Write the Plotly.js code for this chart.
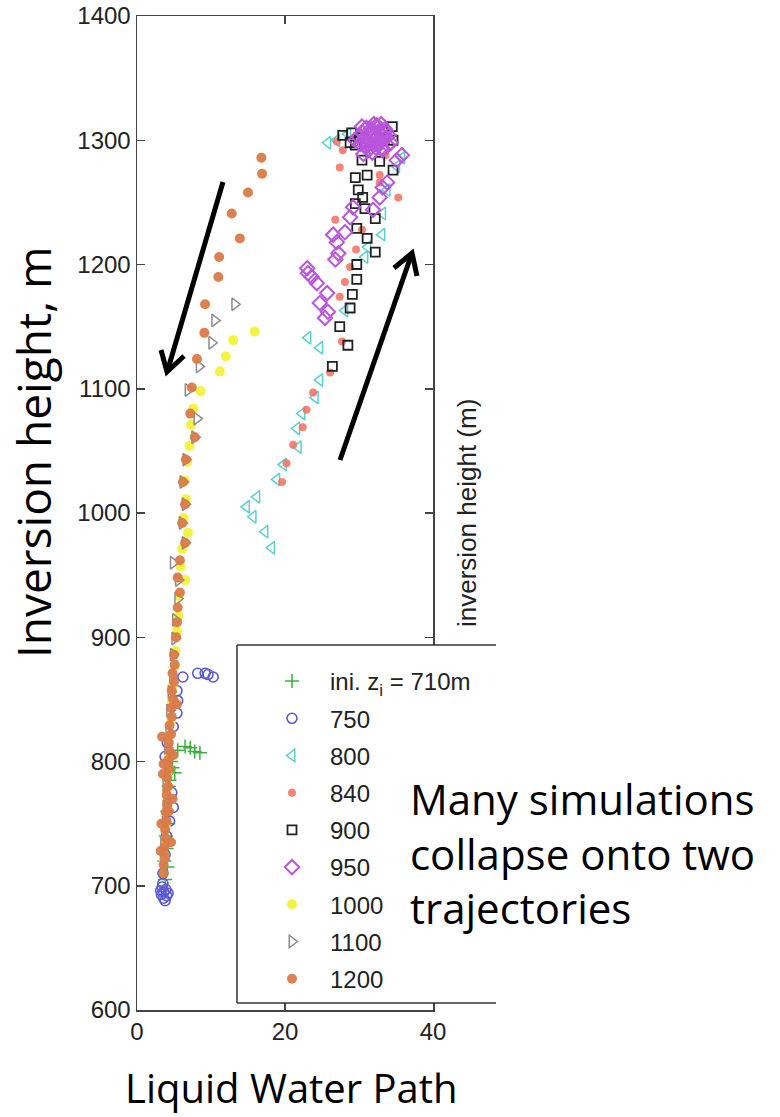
<!DOCTYPE html>
<html>
<head>
<meta charset="utf-8">
<script src="https://cdn.plot.ly/plotly-3.0.1.min.js"></script>
<style>html,body{margin:0;padding:0;background:#fff;}#chart{width:780px;height:1117px;}</style>
</head>
<body>
<div id="chart"></div>
<script>
// ---- data (LWP vs inversion height) ----
const seriesNames = ["ini. z<sub>i</sub> = 710m", "750", "800", "840", "900", "950", "1000", "1100", "1200"];

const lwp710 = [5.5, 6.5, 7.2, 7.8, 8.5, 4.6, 5.1, 4.3, 4.5, 4.1, 4.2, 3.9, 4.0, 3.7, 4.1, 3.8, 4.8, 4.4];
const zi710  = [809, 812, 811, 808, 807, 800, 791, 780, 770, 760, 750, 740, 730, 720, 715, 705, 795, 785];

const lwp750 = [6.2, 8.2, 9.2, 9.6, 10.3, 5.4, 5.5, 5.4, 4.9, 4.1, 3.8, 4.7, 4.9, 4.4, 4.0, 3.8, 3.5, 3.4, 3.9, 3.6, 3.3, 4.0, 3.6, 3.8, 3.2, 4.2, 3.5];
const zi750  = [868, 871, 871, 870, 868, 857, 849, 839, 828, 815, 804, 775, 763, 752, 740, 725, 710, 699, 697, 695, 693, 692, 690, 688, 696, 694, 702];

const lwp800 = [18.2, 17.3, 15.7, 14.8, 16.2, 18.9, 19.8, 21.8, 21.6, 22.3, 24.1, 24.7, 23.1, 24.7, 28.1, 30.8, 31.2, 33.1, 33.2, 33.8, 35.1, 35.8, 25.8, 27.0, 28.5, 30.0];
const zi800  = [972, 985, 997, 1005, 1013, 1027, 1039, 1053, 1068, 1080, 1093, 1107, 1141, 1133, 1163, 1206, 1214, 1224, 1241, 1260, 1279, 1286, 1298, 1300, 1305, 1300];

const lwp840 = [19.6, 20.2, 21.1, 22.4, 22.9, 23.8, 26.1, 27.7, 27.4, 28.1, 28.8, 29.6, 26.8, 30.4, 27.4, 27.8, 27.0, 35.3, 32.8, 32.8, 33.6, 31.2];
const zi840  = [1025, 1040, 1055, 1069, 1083, 1097, 1113, 1138, 1174, 1186, 1198, 1212, 1236, 1228, 1278, 1292, 1299, 1254, 1266, 1272, 1288, 1296];

const lwp900 = [26.4, 27.4, 28.5, 28.8, 29.1, 29.7, 29.7, 32.2, 31.1, 29.7, 32.2, 30.8, 29.5, 30.5, 29.9, 29.5, 31.1, 30.4, 32.8, 34.6, 34.6, 34.5, 27.8, 28.8, 29.0, 30.0, 33.2, 29.5];
const zi900  = [1118, 1150, 1135, 1165, 1176, 1188, 1200, 1210, 1221, 1229, 1237, 1245, 1249, 1254, 1260, 1270, 1272, 1284, 1283, 1276, 1300, 1311, 1304, 1298, 1306, 1302, 1308, 1296];

const lwp950 = [23.0, 23.1, 23.6, 24.3, 25.7, 24.7, 25.8, 25.4, 26.8, 27.2, 27.0, 26.5, 28.1, 28.8, 29.2, 31.9, 32.8, 33.2, 33.8, 35.8, 35.1,
                31.0, 32.5, 33.5, 30.5, 31.8, 33.0, 34.0, 30.8, 32.2, 33.4, 31.5, 32.8, 30.2, 33.9, 31.0, 32.3, 33.2, 31.8, 30.6, 29.5, 29.9, 32.0, 33.0, 31.3, 34.3,
                31.4, 32.6, 30.9, 33.7, 32.1, 31.6, 33.1, 30.4, 32.9, 31.2, 32.4, 33.6];
const zi950  = [1197, 1193, 1190, 1185, 1177, 1169, 1162, 1157, 1204, 1209, 1218, 1224, 1226, 1238, 1246, 1244, 1254, 1262, 1266, 1288, 1284,
                1310, 1310, 1309, 1306, 1306, 1305, 1304, 1302, 1302, 1301, 1299, 1298, 1297, 1296, 1295, 1294, 1292, 1290, 1289, 1300, 1303, 1313, 1313, 1292, 1298,
                1304, 1307, 1299, 1302, 1297, 1309, 1294, 1311, 1300, 1296, 1312, 1307];

const lwp1000 = [15.9, 13.0, 12.0, 11.2, 8.6, 7.6, 7.3, 7.1, 6.8, 6.5, 6.6, 6.3, 6.9, 6.1, 5.9, 6.5, 5.7, 5.6, 5.4, 5.2, 5.1, 4.8, 4.7, 4.6, 4.4, 4.3, 4.3, 4.0, 4.1, 3.9, 3.8, 3.6];
const zi1000  = [1146, 1139, 1126, 1114, 1098, 1084, 1071, 1054, 1041, 1026, 1011, 996, 984, 971, 957, 946, 933, 917, 905, 889, 877, 861, 849, 833, 821, 805, 793, 777, 765, 749, 737, 721];

const lwp1100 = [13.2, 10.5, 10.1, 8.4, 6.9, 8.1, 7.8, 6.6, 6.2, 6.5, 6.1, 6.5, 4.9, 5.6, 5.5, 5.2, 5.1, 4.9, 4.8, 4.6, 4.4, 4.3, 4.1, 4.1, 3.9, 3.9, 3.8, 3.6, 3.6];
const zi1100  = [1168, 1155, 1137, 1118, 1099, 1076, 1061, 1043, 1025, 1007, 992, 976, 960, 946, 931, 914, 899, 886, 869, 856, 841, 824, 811, 794, 781, 764, 751, 734, 721];

const lwp1200 = [16.8, 16.9, 15.0, 12.8, 13.9, 11.1, 11.0, 9.2, 9.1, 8.1, 7.4, 7.2, 7.8, 6.6, 6.2, 6.5, 6.1, 6.5, 5.8, 5.5, 5.8, 5.5, 5.4, 5.3,
                 5.0, 5.1, 4.8, 5.0, 4.7, 4.9, 4.6, 4.7, 4.4, 4.6, 4.3, 4.4, 4.2, 4.4, 4.1, 4.2, 4.0, 4.1, 3.9, 4.0, 3.8, 3.9, 3.7, 3.8, 3.6, 3.6,
                 3.4, 4.9, 3.5, 4.8, 3.3, 4.6, 5.4, 3.6, 4.3, 3.2];
const zi1200  = [1286, 1273, 1258, 1241, 1221, 1206, 1190, 1168, 1145, 1124, 1101, 1080, 1061, 1043, 1025, 1007, 992, 976, 962, 948, 936, 924, 912, 900,
                 886, 878, 871, 864, 857, 850, 843, 836, 829, 822, 815, 808, 801, 794, 787, 780, 773, 766, 759, 752, 745, 738, 731, 724, 717, 710,
                 820, 805, 790, 770, 750, 735, 846, 798, 760, 728];

// ---- styles ----
const FONT = "Liberation Sans, Arial, Helvetica, sans-serif";
const BIG = "Open Sans, Lato, sans-serif";

function tr(name, x, y, symbol, color, size, lw, filled, opacity) {
  return {
    type: "scatter", mode: "markers", name: name, x: x, y: y,
    legendgroup: name,
    marker: filled
      ? {symbol: symbol, color: color, size: size, opacity: opacity || 1, line: {width: 0}}
      : {symbol: symbol, color: color, size: size, opacity: opacity || 1, line: {width: lw, color: color}},
    hoverinfo: "x+y"
  };
}

const data = [
  tr(seriesNames[0], lwp710, zi710, "cross-thin-open", "#3fae3f", 10, 1.5, false),
  tr(seriesNames[1], lwp750, zi750, "circle-open", "#5a5ad2", 10, 1.6, false),
  tr(seriesNames[2], lwp800, zi800, "triangle-left-open", "#5ccfd0", 11, 1.5, false),
  tr(seriesNames[3], lwp840, zi840, "circle", "#f5705f", 8, 0, true, 0.85),
  tr(seriesNames[4], lwp900, zi900, "square-open", "#222222", 9, 1.8, false),
  tr(seriesNames[5], lwp950, zi950, "diamond-open", "#b955dc", 11, 2, false),
  tr(seriesNames[6], lwp1000, zi1000, "circle", "#f2f23a", 10, 0, true, 0.95),
  tr(seriesNames[7], lwp1100, zi1100, "triangle-right-open", "#8c8c8c", 11, 1.5, false),
  tr(seriesNames[8], lwp1200, zi1200, "circle", "#da7a48", 10, 0, true, 0.95)
];

const axisCommon = {
  showline: true, linecolor: "#444", linewidth: 1.5, mirror: "ticks",
  ticks: "inside", ticklen: 8, tickwidth: 1.5, tickcolor: "#444",
  showgrid: false, zeroline: false,
  tickfont: {family: FONT, size: 24, color: "#222"}
};

// pixel helpers for paper positions of decoration (plot area: x 137..433, y 16..1010)
const px = v => (v - 137) / 296;
const py = v => (1010 - v) / 994;
const P = (x, y) => px(x).toFixed(4) + "," + py(y).toFixed(4);

const arrowStyle = {color: "#000", width: 5};

const layout = {
  width: 780, height: 1117,
  margin: {l: 137, r: 347, t: 16, b: 107, pad: 0},
  paper_bgcolor: "#fff", plot_bgcolor: "#fff",
  showlegend: true,
  xaxis: Object.assign({}, axisCommon, {range: [0, 40], tickvals: [0, 20, 40]}),
  yaxis: Object.assign({}, axisCommon, {range: [600, 1400], dtick: 100, tick0: 600}),
  legend: {
    x: px(254), y: py(659), xanchor: "left", yanchor: "top",
    bgcolor: "rgba(0,0,0,0)", borderwidth: 0,
    font: {family: FONT, size: 24, color: "#222"},
    itemwidth: 66, tracegroupgap: 3, traceorder: "grouped"
  },
  shapes: [
    {type: "rect", xref: "paper", yref: "paper", x0: px(237), x1: px(500), y0: py(1003), y1: py(645),
     fillcolor: "#fff", line: {width: 0}, layer: "above"},
    {type: "line", xref: "paper", yref: "paper", x0: px(237), x1: px(496), y0: py(645), y1: py(645),
     line: {color: "#333", width: 1.5}, layer: "above"},
    {type: "line", xref: "paper", yref: "paper", x0: px(237), x1: px(496), y0: py(1003), y1: py(1003),
     line: {color: "#333", width: 1.5}, layer: "above"},
    {type: "line", xref: "paper", yref: "paper", x0: px(237), x1: px(237), y0: py(1003), y1: py(645),
     line: {color: "#333", width: 1.5}, layer: "above"},
    // arrow 1 (pointing down-left)
    {type: "path", xref: "paper", yref: "paper", path: "M" + P(223, 182) + "L" + P(168, 369), line: arrowStyle, layer: "above"},
    {type: "path", xref: "paper", yref: "paper", path: "M" + P(184, 356) + "L" + P(167, 372) + "L" + P(161, 350), line: arrowStyle, layer: "above"},
    // arrow 2 (pointing up-right)
    {type: "path", xref: "paper", yref: "paper", path: "M" + P(340, 460) + "L" + P(411, 256), line: arrowStyle, layer: "above"},
    {type: "path", xref: "paper", yref: "paper", path: "M" + P(394, 268) + "L" + P(412, 253) + "L" + P(417, 276), line: arrowStyle, layer: "above"}
  ],
  annotations: [
    {text: "Inversion height, m", xref: "paper", yref: "paper", x: px(33), y: py(452),
     textangle: -90, showarrow: false, font: {family: BIG, size: 46, color: "#000"},
     xanchor: "center", yanchor: "middle"},
    {text: "Liquid Water Path", xref: "paper", yref: "paper", x: px(291), y: py(1087),
     showarrow: false, font: {family: BIG, size: 40, color: "#000"}, xanchor: "center", yanchor: "middle"},
    {text: "Many simulations<br>collapse onto two<br>trajectories", xref: "paper", yref: "paper",
     x: px(408), y: py(768), xanchor: "left", yanchor: "top", align: "left", showarrow: false,
     font: {family: BIG, size: 42, color: "#000"}},
    {text: "inversion height (m)", xref: "paper", yref: "paper", x: px(467), y: py(513),
     textangle: -90, showarrow: false, font: {family: FONT, size: 26, color: "#222"},
     xanchor: "center", yanchor: "middle"}
  ]
};

Plotly.newPlot("chart", data, layout, {staticPlot: true, displayModeBar: false});
</script>
</body>
</html>
